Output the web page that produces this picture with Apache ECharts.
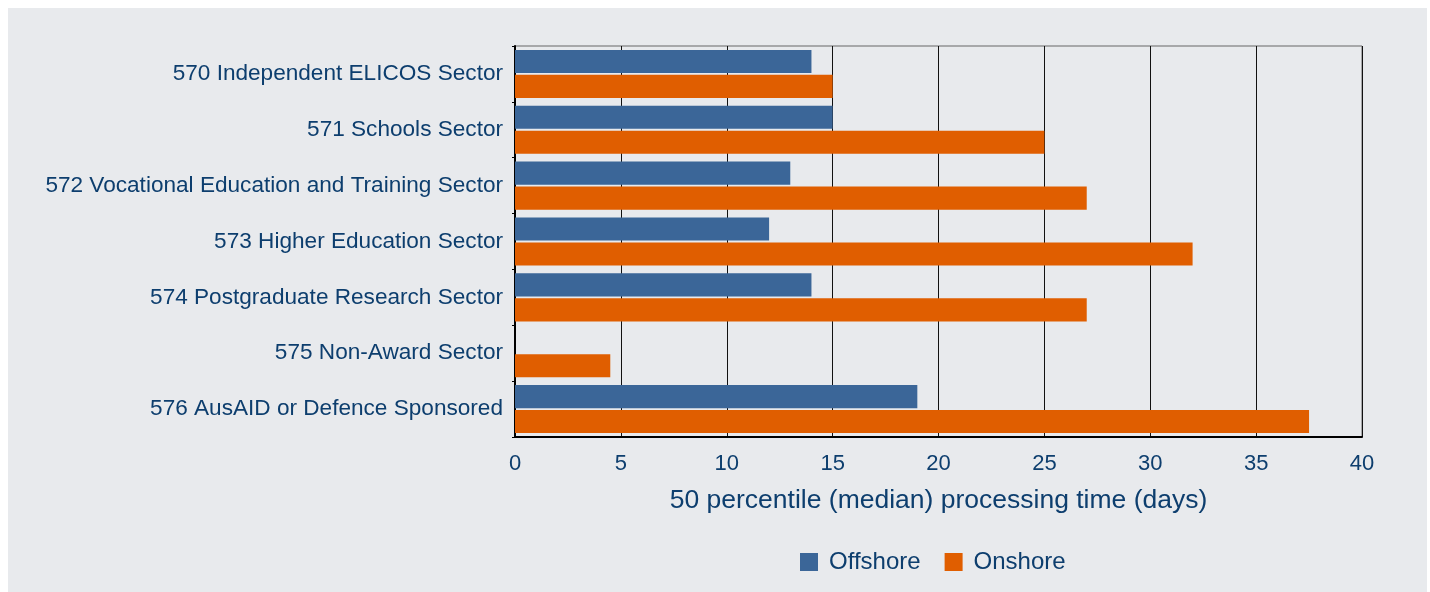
<!DOCTYPE html>
<html>
<head>
<meta charset="utf-8">
<script src="https://cdn.jsdelivr.net/npm/echarts@6/dist/echarts.min.js"></script>
<style>
  html, body { margin: 0; padding: 0; background: #ffffff; }
  #wrap { position: relative; width: 1430px; height: 592px; }
  #chart { position: absolute; left: 0; top: 0; width: 1430px; height: 592px; }
  #frame { position: absolute; left: 0; top: 0; width: 1430px; height: 592px; box-sizing: border-box;
           border-left: 8px solid #fff; border-top: 8px solid #fff; border-right: 3px solid #fff; border-bottom: 0; pointer-events: none; }
</style>
</head>
<body>
<div id="wrap">
  <div id="chart"></div>
  <div id="frame"></div>
</div>
<script>
const categories = [
  '570 Independent ELICOS Sector',
  '571 Schools Sector',
  '572 Vocational Education and Training Sector',
  '573 Higher Education Sector',
  '574 Postgraduate Research Sector',
  '575 Non-Award Sector',
  '576 AusAID or Defence Sponsored'
];
const offshore = [14, 15, 13, 12, 14, 0, 19];
const onshore = [15, 25, 27, 32, 27, 4.5, 37.5];
const xTicks = { min: 0, max: 40, interval: 5 };
const axisTitle = '50 percentile (median) processing time (days)';
const seriesNames = ['Offshore', 'Onshore'];

const textColor = '#0d3e6e';
const fontFamily = 'Liberation Sans, Arial, sans-serif';

const chart = echarts.init(document.getElementById('chart'), null, { renderer: 'canvas' });
chart.setOption({
  backgroundColor: '#e8eaed',
  animation: false,
  textStyle: { fontFamily: fontFamily, color: textColor },
  grid: {
    left: 515, right: 68, top: 46, bottom: 155,
    show: true, borderColor: '#666', borderWidth: 1, backgroundColor: 'transparent'
  },
  legend: {
    data: seriesNames,
    left: 800, top: 550,
    padding: 0,
    itemWidth: 18, itemHeight: 18, itemGap: 24,
    icon: 'rect',
    textStyle: { fontSize: 24, color: textColor, fontFamily: fontFamily, padding: [0, 0, 0, 6] }
  },
  xAxis: {
    type: 'value',
    min: xTicks.min, max: xTicks.max, interval: xTicks.interval,
    name: axisTitle,
    nameLocation: 'middle',
    nameGap: 50,
    nameTextStyle: { fontSize: 26.5, color: textColor, fontFamily: fontFamily, verticalAlign: 'top' },
    axisLine: { show: true, lineStyle: { color: '#000', width: 2 } },
    axisTick: { show: false },
    axisLabel: { fontSize: 22, color: textColor, margin: 16, fontFamily: fontFamily },
    splitLine: { show: true, lineStyle: { color: '#111', width: 1 } }
  },
  yAxis: {
    type: 'category',
    data: categories,
    inverse: true,
    axisLine: { show: true, lineStyle: { color: '#000', width: 2 } },
    axisTick: { show: true, length: 3, lineStyle: { color: '#000', width: 1 } },
    axisLabel: { fontSize: 22.6, color: textColor, margin: 12, fontFamily: fontFamily, padding: [4, 0, 0, 0] },
    splitLine: { show: false }
  },
  series: [
    {
      name: seriesNames[0], type: 'bar', data: offshore,
      itemStyle: { color: '#3b6698' },
      barGap: '8%', barCategoryGap: '14%'
    },
    {
      name: seriesNames[1], type: 'bar', data: onshore,
      itemStyle: { color: '#e05e00' },
      barGap: '8%', barCategoryGap: '14%'
    }
  ]
});
</script>
</body>
</html>
